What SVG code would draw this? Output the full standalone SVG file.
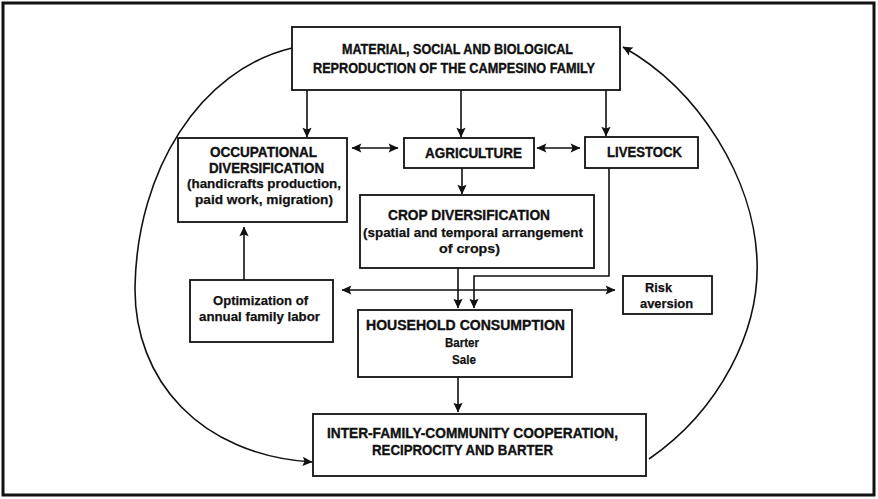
<svg xmlns="http://www.w3.org/2000/svg" width="878" height="499" viewBox="0 0 878 499">
  <style>
    .box { fill: #fff; stroke: #111; stroke-width: 1.8; }
    .frame { fill: #fff; stroke: #111; stroke-width: 3; }
    .t { font-family: "Liberation Sans", Arial, sans-serif; font-weight: bold; font-size: 14px; fill: #111; stroke: #111; stroke-width: 0.35; }
    .s { font-family: "Liberation Sans", Arial, sans-serif; font-weight: bold; font-size: 13.5px; fill: #111; stroke: #111; stroke-width: 0.25; }
    .c { fill: none; stroke: #111; stroke-width: 1.6; }
  </style>
  <defs>
    <marker id="ah" markerUnits="userSpaceOnUse" markerWidth="11" markerHeight="11" viewBox="0 0 10 10" refX="9" refY="5" orient="auto-start-reverse">
      <path d="M0.5,0.8 L9.5,5 L0.5,9.2 L2.2,5 z" fill="#111"/>
    </marker>
  </defs>

  <!-- outer frame -->
  <rect class="frame" x="3" y="3" width="871" height="492"/>

  <!-- connectors -->
  <g id="connectors">
    <path class="c" d="M307,90 V137" marker-end="url(#ah)"/>
    <path class="c" d="M461,90 V137" marker-end="url(#ah)"/>
    <path class="c" d="M606,90 V136" marker-end="url(#ah)"/>
    <path class="c" d="M352,148 H398" marker-start="url(#ah)" marker-end="url(#ah)"/>
    <path class="c" d="M537,148 H580" marker-start="url(#ah)" marker-end="url(#ah)"/>
    <path class="c" d="M462,168 V194" marker-end="url(#ah)"/>
    <path class="c" d="M609,168 V276 H474 V308" marker-end="url(#ah)"/>
    <path class="c" d="M458,268 V308" marker-end="url(#ah)"/>
    <path class="c" d="M244,280 V227" marker-end="url(#ah)"/>
    <path class="c" d="M342,290 H615" marker-start="url(#ah)" marker-end="url(#ah)"/>
    <path class="c" d="M458,377 V412" marker-end="url(#ah)"/>
    <path class="c" d="M292,48 C200,70 137,170 135,287 C134,380 200,455 312,462" marker-end="url(#ah)"/>
    <path class="c" d="M649,459 C720,410 760,330 757,260 C754,180 700,90 623,47" marker-end="url(#ah)"/>
  </g>

  <g id="reproduction">
    <rect class="box" x="292" y="27" width="328" height="63"/>
    <text class="t" x="342" y="54" font-size="15" textLength="231" lengthAdjust="spacingAndGlyphs">MATERIAL, SOCIAL AND BIOLOGICAL</text>
    <text class="t" x="313" y="73" font-size="15" textLength="282" lengthAdjust="spacingAndGlyphs">REPRODUCTION OF THE CAMPESINO FAMILY</text>
  </g>

  <g id="occupational">
    <rect class="box" x="178" y="138" width="169" height="84"/>
    <text class="t" x="210" y="157" textLength="107" lengthAdjust="spacingAndGlyphs">OCCUPATIONAL</text>
    <text class="t" x="209" y="173" textLength="115" lengthAdjust="spacingAndGlyphs">DIVERSIFICATION</text>
    <text class="s" x="187" y="188" textLength="154" lengthAdjust="spacingAndGlyphs">(handicrafts production,</text>
    <text class="s" x="195" y="204" textLength="138" lengthAdjust="spacingAndGlyphs">paid work, migration)</text>
  </g>

  <g id="agriculture">
    <rect class="box" x="404" y="138" width="130" height="30"/>
    <text class="t" x="425" y="158" textLength="97" lengthAdjust="spacingAndGlyphs">AGRICULTURE</text>
  </g>

  <g id="livestock">
    <rect class="box" x="585" y="137" width="113" height="31"/>
    <text class="t" x="607" y="157" textLength="75" lengthAdjust="spacingAndGlyphs">LIVESTOCK</text>
  </g>

  <g id="crop-diversification">
    <rect class="box" x="360" y="195" width="234" height="73"/>
    <text class="t" x="388" y="220" textLength="162" lengthAdjust="spacingAndGlyphs">CROP DIVERSIFICATION</text>
    <text class="s" x="363" y="237" textLength="220" lengthAdjust="spacingAndGlyphs">(spatial and temporal arrangement</text>
    <text class="s" x="439" y="253" textLength="61" lengthAdjust="spacingAndGlyphs">of crops)</text>
  </g>

  <g id="optimization">
    <rect class="box" x="190" y="280" width="143" height="62"/>
    <text class="s" x="213" y="305" textLength="95" lengthAdjust="spacingAndGlyphs">Optimization of</text>
    <text class="s" x="199" y="321" textLength="121" lengthAdjust="spacingAndGlyphs">annual family labor</text>
  </g>

  <g id="risk-aversion">
    <rect class="box" x="623" y="276" width="89" height="38"/>
    <text class="s" x="645" y="292" textLength="27" lengthAdjust="spacingAndGlyphs">Risk</text>
    <text class="s" x="640" y="308" textLength="53" lengthAdjust="spacingAndGlyphs">aversion</text>
  </g>

  <g id="household">
    <rect class="box" x="358" y="310" width="214" height="67"/>
    <text class="t" x="366" y="330" textLength="199" lengthAdjust="spacingAndGlyphs">HOUSEHOLD CONSUMPTION</text>
    <text class="s" x="445" y="347" textLength="34" lengthAdjust="spacingAndGlyphs">Barter</text>
    <text class="s" x="452" y="364" textLength="24" lengthAdjust="spacingAndGlyphs">Sale</text>
  </g>

  <g id="cooperation">
    <rect class="box" x="313" y="414" width="333" height="62"/>
    <text class="t" x="327" y="438" textLength="291" lengthAdjust="spacingAndGlyphs">INTER-FAMILY-COMMUNITY COOPERATION,</text>
    <text class="t" x="372" y="455" textLength="181" lengthAdjust="spacingAndGlyphs">RECIPROCITY AND BARTER</text>
  </g>
</svg>
